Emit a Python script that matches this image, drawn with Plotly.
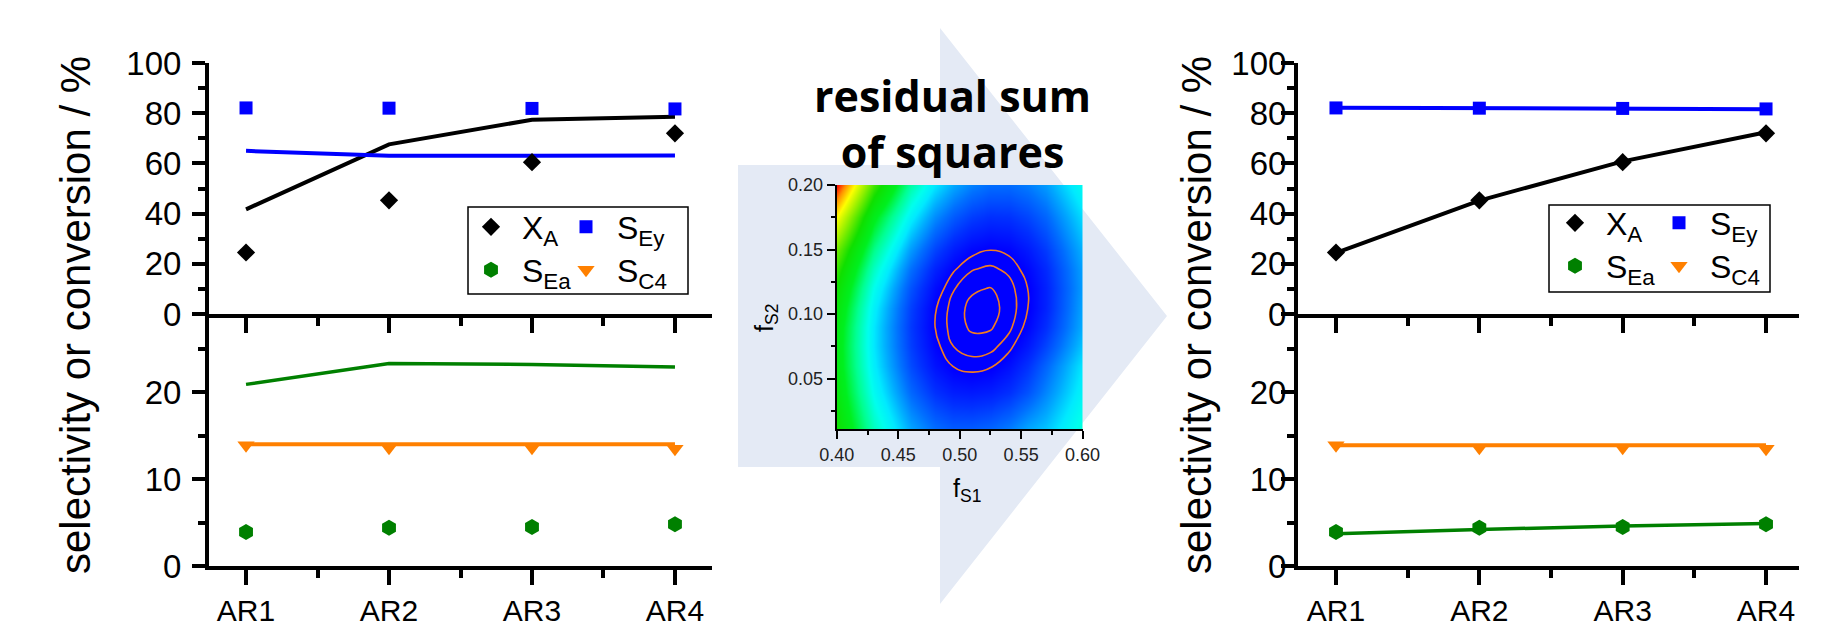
import plotly.graph_objects as go

W, H = 1839, 631

# ---------------- data ----------------
categories = ["AR1", "AR2", "AR3", "AR4"]

# experimental points (same in both panels)
x_a_exp = [24.5, 45.3, 60.5, 72.0]
s_ey_exp = [82.1, 82.0, 81.9, 81.7]
s_ea_exp = [3.9, 4.4, 4.5, 4.8]
s_c4_exp = [13.9, 13.6, 13.6, 13.5]

# model with initial parameters (left panel)
x_a_initial = [41.7, 67.6, 77.4, 78.6]
s_ey_initial = [65.0, 63.0, 63.0, 63.1]
s_ea_initial = [20.9, 23.3, 23.2, 22.9]
s_c4_initial = [14.0, 14.0, 14.0, 14.0]

# model with fitted parameters (right panel)
x_a_fitted = [24.4, 45.2, 60.8, 72.4]
s_ey_fitted = [82.2, 82.0, 81.8, 81.6]
s_ea_fitted = [3.7, 4.2, 4.6, 4.9]
s_c4_fitted = [13.9, 13.9, 13.9, 13.9]

upper_ticks = [0, 20, 40, 60, 80, 100]
lower_ticks = [0, 10, 20]
heat_x_ticks = [0.40, 0.45, 0.50, 0.55, 0.60]
heat_y_ticks = [0.05, 0.10, 0.15, 0.20]

f_s1 = [0.40, 0.43, 0.46, 0.48, 0.495, 0.51, 0.525, 0.54, 0.555, 0.57, 0.60]
f_s2 = [0.01, 0.04, 0.06, 0.075, 0.09, 0.105, 0.12, 0.135, 0.15, 0.175, 0.20]
rss = [
    [0.593, 0.382, 0.243, 0.190, 0.170, 0.170, 0.181, 0.204, 0.245, 0.270, 0.360],
    [0.555, 0.332, 0.181, 0.120, 0.095, 0.090, 0.097, 0.117, 0.157, 0.210, 0.320],
    [0.539, 0.308, 0.149, 0.083, 0.054, 0.045, 0.052, 0.077, 0.121, 0.178, 0.300],
    [0.536, 0.299, 0.135, 0.065, 0.033, 0.020, 0.024, 0.047, 0.088, 0.142, 0.270],
    [0.543, 0.300, 0.130, 0.056, 0.021, 0.006, 0.007, 0.026, 0.065, 0.116, 0.250],
    [0.562, 0.313, 0.137, 0.059, 0.022, 0.003, 0.002, 0.018, 0.054, 0.102, 0.242],
    [0.594, 0.340, 0.158, 0.076, 0.035, 0.014, 0.009, 0.023, 0.055, 0.101, 0.235],
    [0.637, 0.377, 0.189, 0.103, 0.060, 0.035, 0.028, 0.039, 0.068, 0.111, 0.239],
    [0.690, 0.424, 0.230, 0.141, 0.094, 0.067, 0.057, 0.064, 0.091, 0.131, 0.253],
    [0.830, 0.517, 0.313, 0.217, 0.166, 0.134, 0.118, 0.121, 0.143, 0.178, 0.290],
    [1.000, 0.650, 0.403, 0.300, 0.244, 0.207, 0.187, 0.185, 0.202, 0.232, 0.335],
]

# ---------------- styling ----------------
FONT = "Liberation Sans, Arial, sans-serif"
BLACK, BLUE, GREEN, ORANGE = "#000000", "#0000ff", "#008000", "#ff8000"
xi = list(range(len(categories)))
minor_x = [i + 0.5 for i in xi[:-1]]
XR_L = [-0.259, 3.259]
XR_R = [-0.265, 3.23]


def px(x):
    return x / W


def py(y):
    return 1 - y / H


LX = [px(209), px(712)]
RX = [px(1298), px(1799)]
TOPY = [py(314), py(63)]
BOTY = [py(566), py(314)]
HX = [px(836.7), px(1082.7)]
HY = [py(429), py(185)]

fig = go.Figure()


def line(xa, ya, y, color, width=4):
    fig.add_trace(go.Scatter(x=xi, y=y, mode="lines", line=dict(color=color, width=width),
                             xaxis=xa, yaxis=ya, showlegend=False, hoverinfo="skip"))


def pts(xa, ya, y, name, symbol, color, size, legend):
    fig.add_trace(go.Scatter(x=xi, y=y, mode="markers", name=name,
                             marker=dict(symbol=symbol, color=color, size=size, line=dict(width=0)),
                             xaxis=xa, yaxis=ya, legend=legend))


# left panel
line("x", "y", x_a_initial, BLACK)
line("x", "y", s_ey_initial, BLUE)
line("x2", "y2", s_ea_initial, GREEN, 3.5)
line("x2", "y2", s_c4_initial, ORANGE)
pts("x", "y", x_a_exp, "X<sub>A</sub>", "diamond", BLACK, 14, "legend")
pts("x", "y", s_ey_exp, "S<sub>Ey</sub>", "square", BLUE, 13, "legend2")
pts("x2", "y2", s_ea_exp, "S<sub>Ea</sub>", "hexagon", GREEN, 16, "legend3")
pts("x2", "y2", s_c4_exp, "S<sub>C4</sub>", "triangle-down", ORANGE, 15, "legend4")

# right panel
line("x3", "y3", x_a_fitted, BLACK)
line("x3", "y3", s_ey_fitted, BLUE)
line("x4", "y4", s_ea_fitted, GREEN, 3.5)
line("x4", "y4", s_c4_fitted, ORANGE)
pts("x3", "y3", x_a_exp, "X<sub>A</sub>", "diamond", BLACK, 14, "legend5")
pts("x3", "y3", s_ey_exp, "S<sub>Ey</sub>", "square", BLUE, 13, "legend6")
pts("x4", "y4", s_ea_exp, "S<sub>Ea</sub>", "hexagon", GREEN, 16, "legend7")
pts("x4", "y4", s_c4_exp, "S<sub>C4</sub>", "triangle-down", ORANGE, 15, "legend8")

# residual sum of squares map
rainbow = [
    [0.0, "#0000ff"], [0.06, "#0000ff"], [0.12, "#0030ff"], [0.19, "#0070ff"],
    [0.245, "#00aaff"], [0.30, "#00eaff"], [0.34, "#00ffee"], [0.42, "#00ff90"],
    [0.50, "#00f020"], [0.60, "#10e000"], [0.72, "#90f000"], [0.83, "#ffff00"],
    [0.92, "#ff9000"], [1.0, "#ff0000"],
]
fig.add_trace(go.Heatmap(x=f_s1, y=f_s2, z=rss, zsmooth="best", colorscale=rainbow,
                         zmin=0, zmax=1, showscale=False, showlegend=False,
                         xaxis="x5", yaxis="y5", hoverinfo="skip"))
fig.add_trace(go.Contour(x=f_s1, y=f_s2, z=rss, showscale=False, showlegend=False,
                         contours=dict(coloring="none", start=0.010, end=0.056, size=0.023),
                         line=dict(color="#f07b22", width=1.6, smoothing=1.3),
                         xaxis="x5", yaxis="y5", hoverinfo="skip"))

YFONT = 33


# ---------------- axes ----------------
def xmain(domain, anchor, rng, labels):
    return dict(domain=domain, anchor=anchor, range=rng, tickmode="array", tickvals=xi,
                ticktext=categories, showticklabels=labels, ticks="outside", ticklen=15,
                tickwidth=4, tickcolor=BLACK, showline=True, linewidth=4, linecolor=BLACK,
                showgrid=False, zeroline=False, automargin=False,
                tickfont=dict(family=FONT, size=30, color=BLACK),
                minor=dict(tickmode="array", tickvals=minor_x, ticks="outside", ticklen=8,
                           tickwidth=4, tickcolor=BLACK, showgrid=False))


def xtop(over, anchor, rng):
    return dict(overlaying=over, anchor=anchor, side="top", range=rng, tickmode="array",
                tickvals=xi, showticklabels=False, ticks="inside", ticklen=14, tickwidth=4,
                tickcolor=BLACK, showline=True, linewidth=4, linecolor=BLACK, showgrid=False,
                zeroline=False, automargin=False,
                minor=dict(tickmode="array", tickvals=minor_x, ticks="inside", ticklen=7,
                           tickwidth=4, tickcolor=BLACK, showgrid=False))


def ymain(domain, anchor, rng, tv, mdt, standoff):
    return dict(domain=domain, anchor=anchor, range=rng, tickmode="array", tickvals=tv,
                ticks="outside", ticklen=13, tickwidth=4, tickcolor=BLACK, showline=True,
                linewidth=4, linecolor=BLACK, showgrid=False, zeroline=False, automargin=False,
                ticklabelstandoff=standoff,
                tickfont=dict(family=FONT, size=YFONT, color=BLACK),
                minor=dict(tickmode="linear", tick0=0, dtick=mdt, ticks="outside", ticklen=7,
                           tickwidth=4, tickcolor=BLACK, showgrid=False))


def yright(over, anchor, rng, tv, mdt):
    return dict(overlaying=over, anchor=anchor, side="right", range=rng, tickmode="array",
                tickvals=tv, showticklabels=False, ticks="inside", ticklen=13, tickwidth=4,
                tickcolor=BLACK, showline=True, linewidth=4, linecolor=BLACK, showgrid=False,
                zeroline=False, automargin=False,
                minor=dict(tickmode="linear", tick0=0, dtick=mdt, ticks="inside", ticklen=7,
                           tickwidth=4, tickcolor=BLACK, showgrid=False))


HXR = [0.3999, 0.6001]
HYR = [0.011, 0.2001]
heat_font = dict(family=FONT, size=18, color="#222222")


def heat_minor(side):
    return dict(tickmode="linear", tick0=0.025, dtick=0.05, ticks=side, ticklen=4,
                tickwidth=2, tickcolor=BLACK)


layout_axes = dict(
    xaxis=xmain(LX, "y", XR_L, False),
    yaxis=ymain(TOPY, "x", [0, 100], upper_ticks, 10, 4),
    xaxis2=xmain(LX, "y2", XR_L, True),
    yaxis2=ymain(BOTY, "x2", [0, 29], lower_ticks, 5, 4),
    xaxis3=xmain(RX, "y3", XR_R, False),
    yaxis3=ymain(TOPY, "x3", [0, 100], upper_ticks, 10, -12),
    xaxis4=xmain(RX, "y4", XR_R, True),
    yaxis4=ymain(BOTY, "x4", [0, 29], lower_ticks, 5, -12),
    xaxis5=dict(domain=HX, anchor="y5", range=HXR, tickmode="array", tickvals=heat_x_ticks,
                tickformat=".2f", ticks="outside", ticklen=8, tickwidth=2, tickcolor=BLACK,
                showline=True, linewidth=2, linecolor=BLACK, showgrid=False, zeroline=False,
                automargin=False, tickfont=heat_font, minor=heat_minor("outside")),
    yaxis5=dict(domain=HY, anchor="x5", range=HYR, tickmode="array", tickvals=heat_y_ticks,
                tickformat=".2f", ticks="outside", ticklen=8, tickwidth=2, tickcolor=BLACK,
                showline=True, linewidth=2, linecolor=BLACK, showgrid=False, zeroline=False,
                automargin=False, tickfont=heat_font, minor=heat_minor("outside")),
    xaxis6=xtop("x", "y", XR_L),
    xaxis7=xtop("x2", "y2", XR_L),
    xaxis8=xtop("x3", "y3", XR_R),
    xaxis9=xtop("x4", "y4", XR_R),
    xaxis10=dict(overlaying="x5", anchor="y5", side="top", range=HXR, tickmode="array",
                 tickvals=heat_x_ticks, showticklabels=False, ticks="inside", ticklen=8,
                 tickwidth=2, tickcolor=BLACK, showline=True, linewidth=2, linecolor=BLACK,
                 showgrid=False, zeroline=False, automargin=False, minor=heat_minor("inside")),
    yaxis6=yright("y", "x", [0, 100], upper_ticks, 10),
    yaxis7=yright("y2", "x2", [0, 29], lower_ticks, 5),
    yaxis8=yright("y3", "x3", [0, 100], upper_ticks, 10),
    yaxis9=yright("y4", "x4", [0, 29], lower_ticks, 5),
    yaxis10=dict(overlaying="y5", anchor="x5", side="right", range=HYR, tickmode="array",
                 tickvals=heat_y_ticks, showticklabels=False, ticks="inside", ticklen=8,
                 tickwidth=2, tickcolor=BLACK, showline=True, linewidth=2, linecolor=BLACK,
                 showgrid=False, zeroline=False, automargin=False, minor=heat_minor("inside")),
)

ITEMW = 52


def leg(sym_x, sym_y):
    return dict(x=px(sym_x - (ITEMW + 10) / 2), y=py(sym_y), xanchor="left", yanchor="middle",
                orientation="h", bgcolor="rgba(0,0,0,0)", borderwidth=0, itemwidth=ITEMW,
                font=dict(family=FONT, size=32, color=BLACK), itemclick=False,
                itemdoubleclick=False)


# arrow in the background
arrow_pts = [(738, 165), (940, 165), (940, 28), (1167, 316), (940, 604), (940, 467), (738, 467)]
arrow_path = "M " + " L ".join(f"{px(a):.5f},{py(b):.5f}" for a, b in arrow_pts) + " Z"

shapes = [
    dict(type="path", path=arrow_path, xref="paper", yref="paper", fillcolor="#e4eaf5",
         line=dict(width=0), layer="below"),
    dict(type="rect", xref="paper", yref="paper", x0=px(468), x1=px(688), y0=py(294),
         y1=py(207), line=dict(color=BLACK, width=1.5)),
    dict(type="rect", xref="paper", yref="paper", x0=px(1549), x1=px(1770), y0=py(292),
         y1=py(205), line=dict(color=BLACK, width=1.5)),
]

ytitle = "selectivity or conversion / %"
annotations = [
    dict(text=ytitle, x=px(75), y=py(315), xref="paper", yref="paper", textangle=-90,
         showarrow=False, xanchor="center", yanchor="middle",
         font=dict(family=FONT, size=42, color=BLACK)),
    dict(text=ytitle, x=px(1196), y=py(315), xref="paper", yref="paper", textangle=-90,
         showarrow=False, xanchor="center", yanchor="middle",
         font=dict(family=FONT, size=42, color=BLACK)),
    dict(text="<b>residual sum<br>of squares</b>", x=px(953), y=py(124), xref="paper",
         yref="paper", showarrow=False, xanchor="center", yanchor="middle",
         font=dict(family="Open Sans, sans-serif", size=43, color=BLACK)),
    dict(text="f<sub>S1</sub>", x=px(967), y=py(490), xref="paper", yref="paper",
         showarrow=False, xanchor="center", yanchor="middle",
         font=dict(family=FONT, size=25, color=BLACK)),
    dict(text="f<sub>S2</sub>", x=px(766), y=py(318), xref="paper", yref="paper",
         textangle=-90, showarrow=False, xanchor="center", yanchor="middle",
         font=dict(family=FONT, size=25, color=BLACK)),
]

fig.update_layout(
    width=W, height=H, margin=dict(l=0, r=0, t=0, b=0, autoexpand=False),
    paper_bgcolor="white", plot_bgcolor="rgba(0,0,0,0)",
    font=dict(family=FONT, color=BLACK),
    legend=leg(491, 227), legend2=leg(586, 227),
    legend3=leg(491, 270), legend4=leg(586, 270),
    legend5=leg(1575, 223), legend6=leg(1679, 223),
    legend7=leg(1575, 266), legend8=leg(1679, 266),
    shapes=shapes, annotations=annotations,
    **layout_axes,
)

fig.write_html("out.html", config={"displayModeBar": False},
               post_script="document.body.style.margin='0px';document.body.style.overflow='hidden';")
